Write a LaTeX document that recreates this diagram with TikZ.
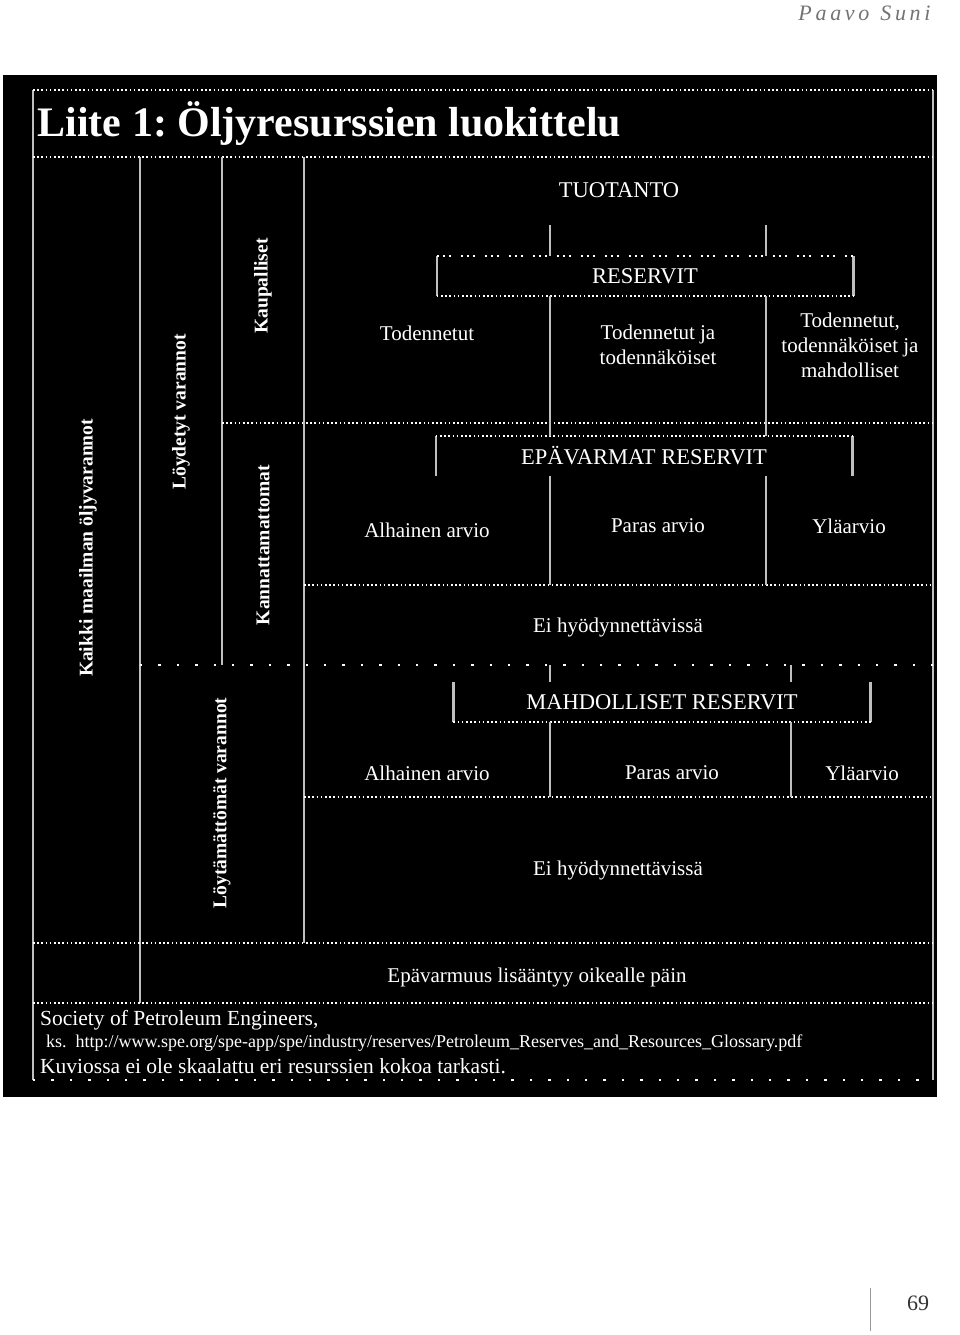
\documentclass[tikz,border=0pt]{standalone}
\usepackage{fontspec}
\setmainfont{Liberation Serif}
\usetikzlibrary{positioning}
\frenchspacing

\begin{document}
\begin{tikzpicture}[
        x=1pt, y=-1pt,
        gridline/.style={draw=white!75!black, line width=2.6pt},
        dotline/.style={draw=white, line width=2pt, dash pattern=on 1.6pt off 2.6pt},
        sparsedots/.style={draw=white, line width=2.4pt, dash pattern=on 2.4pt off 16pt},
        groupdots/.style={draw=white, line width=2pt, dash pattern=on 2pt off 4pt on 2pt off 4pt on 2pt off 10pt},
        celltext/.style={text=white, align=center, font=\fontsize{21}{25}\selectfont},
        headtext/.style={text=white, align=center, font=\fontsize{22.5}{25}\selectfont},
        sidetext/.style={text=white, rotate=90, font=\fontsize{19.5}{22}\selectfont\bfseries},
        foottext/.style={text=white, anchor=west, inner sep=0pt, font=\fontsize{21.5}{23}\selectfont},
        boxhead/.style={minimum width=416pt, minimum height=40pt, inner sep=0pt}
    ]
        \useasboundingbox (0,0) rectangle (960,1335);
        \fill[white] (0,0) rectangle (960,1335);

        % page header and number
        \node[text=black!55, anchor=east, font=\fontsize{22}{24}\selectfont\itshape] (author) at (934,13) {P\,a\,a\,v\,o\ \ S\,u\,n\,i};
        \node[text=black!80, font=\fontsize{22}{24}\selectfont] (pageno) at (918,1303) {69};
        \draw[black!40, line width=0.8pt] (870,1288) -- (870,1331);

        % black panel
        \fill[black] (3,75) rectangle (937,1097);

        % frame and grid
        \draw[gridline] (33,90) -- (33,1080);
        \draw[gridline] (933,90) -- (933,1080);
        \draw[dotline] (33,90) -- (933,90);
        \draw[dotline] (33,157) -- (933,157);
        \draw[gridline] (140,157) -- (140,1003);
        \draw[gridline] (222,157) -- (222,665);
        \draw[gridline] (304,157) -- (304,943);
        \draw[dotline] (222,423) -- (933,423);
        \draw[dotline] (304,585) -- (933,585);
        \draw[sparsedots] (140,665) -- (933,665);
        \draw[dotline] (304,797) -- (933,797);
        \draw[dotline] (33,943) -- (933,943);
        \draw[dotline] (33,1003) -- (933,1003);
        \draw[sparsedots] (33,1080) -- (933,1080);

        \node[text=white, anchor=west, font=\fontsize{42}{46}\selectfont\bfseries] (title) at (34,124) {Liite 1: Öljyresurssien luokittelu};

        % side labels
        \node[sidetext] (kaikki) at (88,548) {Kaikki maailman öljyvarannot};
        \node[sidetext] (loydetyt) at (181,412) {Löydetyt varannot};
        \node[sidetext] (kaupalliset) at (263,286) {Kaupalliset};
        \node[sidetext] (kannattamattomat) at (263,545) {Kannattamattomat};
        \node[sidetext] (loytamattomat) at (222,803) {Löytämättömät varannot};

        % reserves
        \node[headtext] (tuotanto) at (619,190) {TUOTANTO};
        \node[boxhead] (res) at (645,276) {};
        \node[headtext] at (res) (reshead) {RESERVIT};
        \draw[gridline] (res.north west) -- (res.south west);
        \draw[gridline] (res.north east) -- (res.south east);
        \draw[groupdots] (res.north west) -- (res.north east);
        \draw[dotline] (res.south west) -- (res.south east);

        \coordinate (resA) at (550,225);
        \coordinate (resB) at (766,225);
        \coordinate (resAb) at (550,423);
        \coordinate (resBb) at (766,423);
        \draw[gridline] (resA) -- (resA |- res.north);
        \draw[gridline] (resB) -- (resB |- res.north);
        \draw[gridline] (resA |- res.south) -- (resAb);
        \draw[gridline] (resB |- res.south) -- (resBb);

        \node[celltext] (p1) at (427,333) {Todennetut};
        \node[celltext] (p2) at (658,345) {Todennetut ja\\todennäköiset};
        \node[celltext] (p3) at (850,345) {Todennetut,\\todennäköiset ja\\mahdolliset};

        % contingent
        \node[boxhead] (epa) at (644,456) {};
        \node[headtext] at (epa) (epahead) {EPÄVARMAT RESERVIT};
        \draw[gridline] (epa.north west) -- (epa.south west);
        \draw[gridline] (epa.north east) -- (epa.south east);
        \draw[dotline] (epa.north west) -- (epa.north east);
        \coordinate (epaA) at (550,585);
        \coordinate (epaB) at (766,585);
        \draw[gridline] (resAb) -- (resAb |- epa.north);
        \draw[gridline] (resBb) -- (resBb |- epa.north);
        \draw[gridline] (epaA |- epa.south) -- (epaA);
        \draw[gridline] (epaB |- epa.south) -- (epaB);

        \node[celltext] (e1) at (427,530) {Alhainen arvio};
        \node[celltext] (e2) at (658,526) {Paras arvio};
        \node[celltext] (e3) at (849,526) {Yläarvio};
        \node[celltext] (eiA) at (618,627) {Ei hyödynnettävissä};

        % prospective
        \node[boxhead, minimum width=417pt] (mah) at (662,702) {};
        \node[headtext] at (mah) (mahhead) {MAHDOLLISET RESERVIT};
        \draw[gridline] (mah.north west) -- (mah.south west);
        \draw[gridline] (mah.north east) -- (mah.south east);
        \draw[dotline] (mah.south west) -- (mah.south east);
        \coordinate (mahA) at (550,665);
        \coordinate (mahB) at (791,665);
        \coordinate (mahAb) at (550,797);
        \coordinate (mahBb) at (791,797);
        \draw[gridline] (mahA) -- (mahA |- mah.north);
        \draw[gridline] (mahB) -- (mahB |- mah.north);
        \draw[gridline] (mahA |- mah.south) -- (mahAb);
        \draw[gridline] (mahB |- mah.south) -- (mahBb);

        \node[celltext] (m1) at (427,773) {Alhainen arvio};
        \node[celltext] (m2) at (672,773) {Paras arvio};
        \node[celltext] (m3) at (862,773) {Yläarvio};
        \node[celltext] (eiB) at (618,870) {Ei hyödynnettävissä};

        \node[celltext] (epavarmuus) at (537,977) {Epävarmuus lisääntyy oikealle päin};

        % source
        \node[foottext] (src1) at (40,1020) {Society of Petroleum Engineers,};
        \node[foottext, font=\fontsize{18}{20}\selectfont] (src2) at (46,1043) {ks.\ \ http://www.spe.org/spe-app/spe/industry/reserves/Petroleum\_Reserves\_and\_Resources\_Glossary.pdf};
        \node[foottext] (src3) at (40,1066) {Kuviossa ei ole skaalattu eri resurssien kokoa tarkasti.};
    \end{tikzpicture}
\end{document}
